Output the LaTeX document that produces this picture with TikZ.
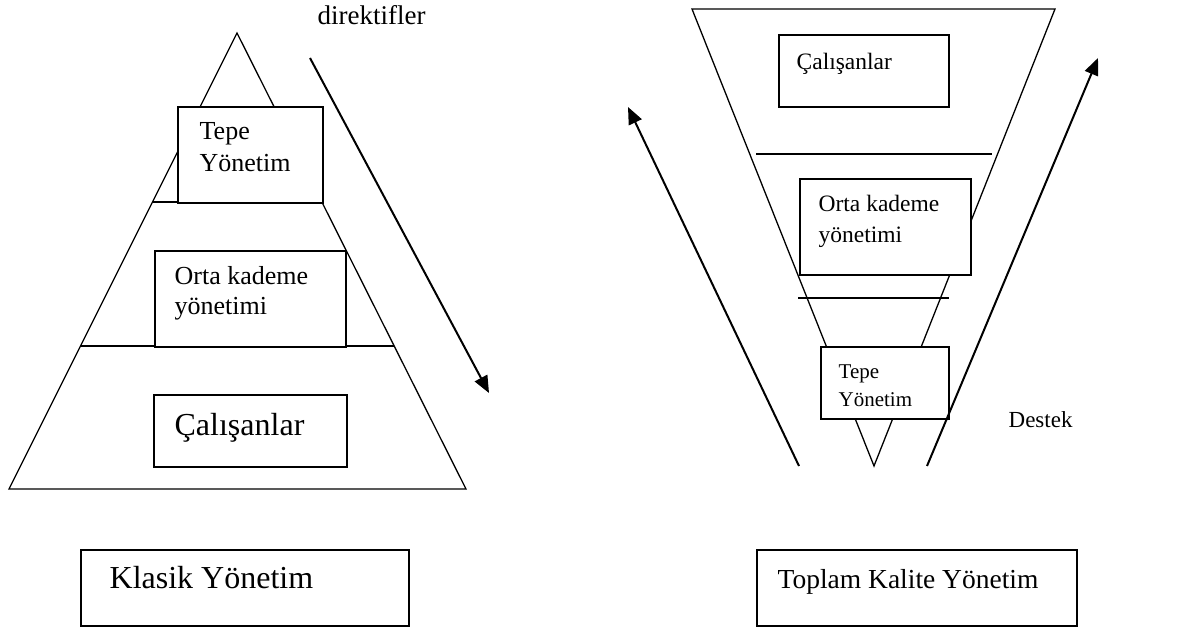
\documentclass[tikz,border=0pt]{standalone}
\usepackage{fontspec}
\setmainfont{Liberation Serif}
\usetikzlibrary{arrows.meta, calc, positioning}
\newcommand{\okUcu}{{Triangle[length=17pt, width=14pt]}}
\newcommand{\ikiSatir}[2]{\begin{tabular}[t]{@{}l@{}}#1\\#2\end{tabular}}
\tikzset{
	kutu/.style={draw, line width=1.8pt, fill=white, inner sep=0pt, anchor=north west},
	yazi/.style={inner sep=0pt, anchor=base west},
	ok/.style={-\okUcu, line width=2pt},
}

\begin{document}
\begin{tikzpicture}[x=1pt, y=-1pt, line width=1.3pt]
	\useasboundingbox (0,0) rectangle (1179,631);
	
	% klasik piramit
	\coordinate (pTepe) at (237,33);
	\coordinate (pSol) at (9,489);
	\coordinate (pSag) at (466,489);
	\draw (pTepe) -- (pSol) -- (pSag) -- cycle;
	\draw ($(pTepe)!0.3706!(pSol)$) -- ($(pTepe)!0.3706!(pSag)$);
	\draw ($(pTepe)!0.6864!(pSol)$) -- ($(pTepe)!0.6864!(pSag)$);
	
	\node[kutu, minimum width=145, minimum height=96] (tepeL) at (177,106) {};
	\node[kutu, minimum width=191, minimum height=96] (ortaL) at (154,250) {};
	\node[kutu, minimum width=193, minimum height=72] (calisanL) at (153,394) {};
	\node[kutu, minimum width=328, minimum height=76] (klasik) at (80,549) {};
	
	\node[yazi, font=\fontsize{26}{32}\selectfont] (tepeLyazi) at (199,140) {\ikiSatir{Tepe}{Yönetim}};
	\node[yazi, font=\fontsize{26}{30}\selectfont] (ortaLyazi) at (174,285) {\ikiSatir{Orta kademe}{yönetimi}};
	\node[yazi, font=\fontsize{32}{38}\selectfont] (calisanLyazi) at (174,435) {Çalışanlar};
	\node[yazi, font=\fontsize{32}{38}\selectfont] (klasikyazi) at (109,588) {Klasik Yönetim};
	\node[yazi, font=\fontsize{27}{32}\selectfont] (direktif) at (317,25) {direktifler};
	
	\coordinate (dirBas) at (310,58);
	\coordinate (dirUc) at (489,393);
	\draw[ok] (dirBas) -- (dirUc);
	
	% ters piramit
	\coordinate (hSol) at (692,9);
	\coordinate (hSag) at (1055,9);
	\coordinate (hUc) at (874,466);
	\draw (hSol) -- (hSag) -- (hUc) -- cycle;
	\draw[line width=1.6pt] (756,154) -- (992,154);
	\draw[line width=1.6pt] (798,298) -- (949,298);
	
	\node[kutu, minimum width=170, minimum height=72] (calisanR) at (778,34) {};
	\node[kutu, minimum width=171, minimum height=96] (ortaR) at (799,178) {};
	\node[kutu, minimum width=128, minimum height=72] (tepeR) at (820,346) {};
	\node[kutu, minimum width=320, minimum height=76] (tky) at (756,549) {};
	
	\node[yazi, font=\fontsize{23.5}{28}\selectfont] (calisanRyazi) at (796,70) {Çalışanlar};
	\node[yazi, font=\fontsize{23.5}{31}\selectfont] (ortaRyazi) at (818,212) {\ikiSatir{Orta kademe}{yönetimi}};
	\node[yazi, font=\fontsize{21}{28}\selectfont] (tepeRyazi) at (838,378) {\ikiSatir{Tepe}{Yönetim}};
	\node[yazi, font=\fontsize{23}{28}\selectfont] (destek) at (1008,427) {Destek};
	\node[yazi, font=\fontsize{27.5}{33}\selectfont] (tkyyazi) at (777,588) {Toplam Kalite Yönetim};
	
	\coordinate (solOkBas) at (799,466);
	\coordinate (solOkUc) at (628,107);
	\coordinate (sagOkBas) at (927,466);
	\coordinate (sagOkUc) at (1098,58);
	\draw[ok] (solOkBas) -- (solOkUc);
	\draw[ok] (sagOkBas) -- (sagOkUc);
\end{tikzpicture}
\end{document}
